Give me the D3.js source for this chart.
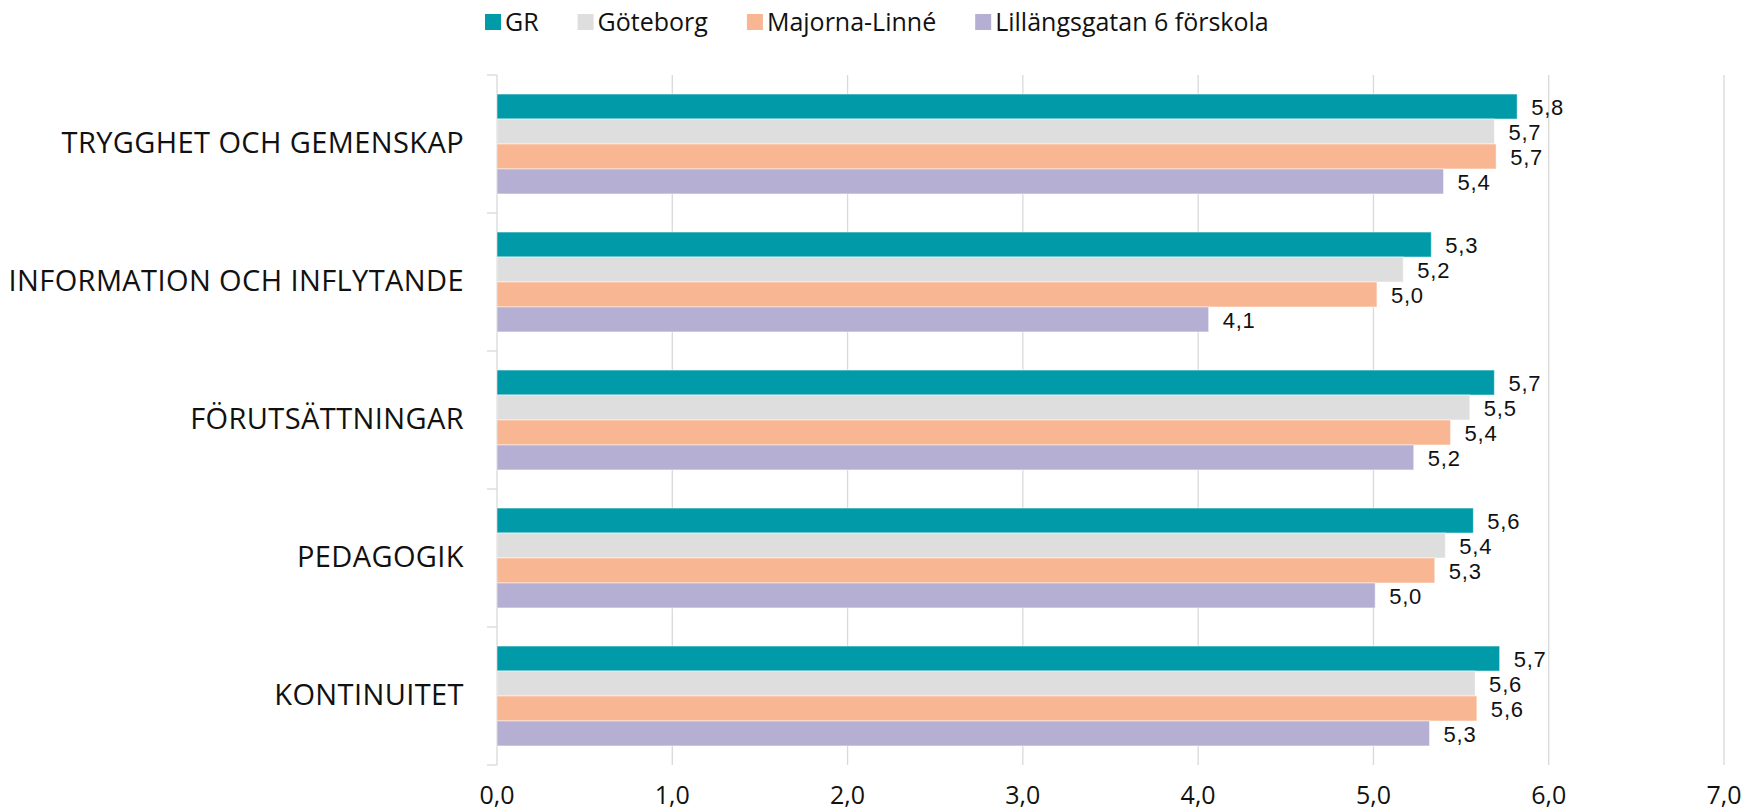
<!DOCTYPE html>
<html>
<head>
<meta charset="utf-8">
<script src="https://cdn.jsdelivr.net/npm/d3@7"></script>
<style>
  html, body { margin: 0; padding: 0; background: #fff; }
  svg { display: block; }
  .grid line { stroke: #d9d9d9; stroke-width: 1.3; }
  .cat-label { font-family: "Open Sans", sans-serif; font-size: 29px; letter-spacing: 0.4px; fill: #111; }
  .tick-label { font-family: "Open Sans", sans-serif; font-size: 25px; fill: #111; }
  .legend text { font-family: "Open Sans", sans-serif; font-size: 25px; fill: #111; }
  .value { font-family: "Liberation Sans", Arial, sans-serif; font-size: 22px; letter-spacing: 0.8px; fill: #111; }
</style>
</head>
<body>
<div id="chart"></div>
<script>
// Categories, top to bottom
var categories = [
  "TRYGGHET OCH GEMENSKAP",
  "INFORMATION OCH INFLYTANDE",
  "FÖRUTSÄTTNINGAR",
  "PEDAGOGIK",
  "KONTINUITET"
];

// Series names (legend order)
var seriesNames = ["GR", "Göteborg", "Majorna-Linné", "Lillängsgatan 6 förskola"];

// Values per series, in category order
var grValues       = [5.82, 5.33, 5.69, 5.57, 5.72];
var goteborgValues = [5.69, 5.17, 5.55, 5.41, 5.58];
var majornaValues  = [5.70, 5.02, 5.44, 5.35, 5.59];
var lillangValues  = [5.40, 4.06, 5.23, 5.01, 5.32];

// X axis ticks
var xTicks = [0, 1, 2, 3, 4, 5, 6, 7];

var seriesValues = [grValues, goteborgValues, majornaValues, lillangValues];
var colors = ["#009aa9", "#dedede", "#f8b692", "#b5afd4"];

var width = 1744, height = 812;
var margin = {top: 75, right: 20, bottom: 47, left: 497};

var svg = d3.select("#chart").append("svg")
    .attr("width", width)
    .attr("height", height);

var x = d3.scaleLinear()
    .domain([0, 7])
    .range([margin.left, 1724]);

var y0 = d3.scaleBand()
    .domain(categories)
    .range([margin.top, height - margin.bottom])
    .padding(0);

// bars take up the middle ~72% of each band
var inset = y0.bandwidth() * 0.138;
var y1 = d3.scaleBand()
    .domain(seriesNames)
    .range([inset, y0.bandwidth() - inset])
    .padding(0);

var fmt = function(v) { return d3.format(".1f")(v).replace(".", ","); };

// Vertical gridlines (including the 0 axis line)
var grid = svg.append("g").attr("class", "grid");
grid.selectAll("line.v")
    .data(xTicks)
    .enter().append("line")
    .attr("class", "v")
    .attr("x1", function(d) { return x(d); })
    .attr("x2", function(d) { return x(d); })
    .attr("y1", y0.range()[0])
    .attr("y2", y0.range()[1]);

// Small category separator ticks on the left
var bounds = categories.map(function(c) { return y0(c); }).concat([y0.range()[1]]);
grid.selectAll("line.h")
    .data(bounds)
    .enter().append("line")
    .attr("class", "h")
    .attr("x1", x(0) - 10)
    .attr("x2", x(0))
    .attr("y1", function(d) { return d; })
    .attr("y2", function(d) { return d; });

// X tick labels
svg.append("g").selectAll("text")
    .data(xTicks)
    .enter().append("text")
    .attr("class", "tick-label")
    .attr("x", function(d) { return x(d); })
    .attr("y", 804)
    .attr("text-anchor", "middle")
    .text(function(d) { return fmt(d); });

// Category labels
svg.append("g").selectAll("text")
    .data(categories)
    .enter().append("text")
    .attr("class", "cat-label")
    .attr("x", x(0) - 33)
    .attr("y", function(d) { return y0(d) + y0.bandwidth() / 2; })
    .attr("dy", "0.32em")
    .attr("text-anchor", "end")
    .text(function(d) { return d; });

// Bars, one group per category
var rows = categories.map(function(c, i) {
  return seriesNames.map(function(s, j) {
    return {category: c, series: s, value: seriesValues[j][i], color: colors[j]};
  });
});

var groups = svg.append("g").selectAll("g")
    .data(rows)
    .enter().append("g")
    .attr("transform", function(d) { return "translate(0," + y0(d[0].category) + ")"; });

groups.selectAll("rect")
    .data(function(d) { return d; })
    .enter().append("rect")
    .attr("x", x(0))
    .attr("y", function(d) { return y1(d.series); })
    .attr("width", function(d) { return x(d.value) - x(0); })
    .attr("height", y1.bandwidth())
    .attr("fill", function(d) { return d.color; })
    .attr("stroke", "#fff")
    .attr("stroke-opacity", 0.5)
    .attr("stroke-width", 1);

groups.selectAll("text")
    .data(function(d) { return d; })
    .enter().append("text")
    .attr("class", "value")
    .attr("x", function(d) { return x(d.value) + 14; })
    .attr("y", function(d) { return y1(d.series) + y1.bandwidth() / 2; })
    .attr("dy", "0.38em")
    .text(function(d) { return fmt(d.value); });

// Legend
var legend = svg.append("g").attr("class", "legend");
var lx = 485;
seriesNames.forEach(function(name, i) {
  var item = legend.append("g").attr("transform", "translate(" + lx + ",0)");
  item.append("rect")
      .attr("x", 0)
      .attr("y", 14)
      .attr("width", 16)
      .attr("height", 16)
      .attr("fill", colors[i]);
  var t = item.append("text")
      .attr("x", 20)
      .attr("y", 31)
      .text(name);
  lx += 20 + t.node().getComputedTextLength() + 39;
});
</script>
</body>
</html>
